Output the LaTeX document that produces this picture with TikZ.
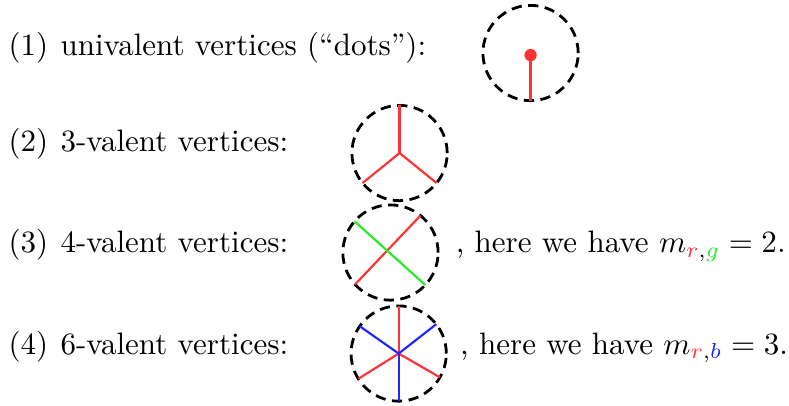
\documentclass[tikz,border=0pt]{standalone}
\usepackage{amsmath}
\usepackage{tikz}
\usepackage{xcolor}
\usetikzlibrary{calc}
\definecolor{vred}{RGB}{255,51,51}
\definecolor{vgreen}{RGB}{40,235,40}
\definecolor{vblue}{RGB}{30,40,255}

\begin{document}
\begin{tikzpicture}[scale=1.0,
    disk/.style={line width=0.9pt, dash pattern=on 3.3pt off 2.1pt},
    leg/.style={line width=0.7pt},
    lbl/.style={anchor=base west, inner sep=0pt}]
    \useasboundingbox (0,0) rectangle (8.945,-4.592);
    \def\rr{0.54}

    % Row labels
    \node [lbl] (n1) at (0.09,-0.624) {(1)};
    \node [lbl] (t1) at (0.68,-0.624) {univalent vertices (``dots''):};
    \node [lbl] (n2) at (0.09,-1.720) {(2)};
    \node [lbl] (t2) at (0.68,-1.720) {3-valent vertices:};
    \node [lbl] (n3) at (0.09,-2.865) {(3)};
    \node [lbl] (t3) at (0.68,-2.865) {4-valent vertices:};
    \node [lbl] (n4) at (0.09,-4.014) {(4)};
    \node [lbl] (t4) at (0.68,-4.014) {6-valent vertices:};

    % Dot
    \coordinate (c1) at (6.015,-0.601);
    \draw [disk] (c1) circle (\rr);
    \draw [leg, vred] (6.015,-0.625) -- (6.015,-0.601-\rr);
    \fill [vred] (6.015,-0.625) circle (0.07);

    % 3-valent
    \coordinate (c2) at (4.530,-1.735);
    \draw [disk] (c2) circle (\rr);
    \foreach \a in {90, 219, -39}
        \draw [leg, vred] (c2) -- ++(\a:\rr);

    % 4-valent
    \coordinate (c3) at (4.427,-2.863);
    \draw [disk] (c3) circle (\rr);
    \draw [leg, vred] ($(c3)+(222:\rr)$) -- ($(c3)+(51:\rr)$);
    \draw [leg, vgreen] ($(c3)+(139:\rr)$) -- ($(c3)+(-43:\rr)$);
    \node [lbl] (r3) at (5.16,-2.865)
        {, here we have $m_{\textcolor{vred}{r},\textcolor{vgreen}{g}} = 2$.};

    % 6-valent
    \coordinate (c4) at (4.520,-4.008);
    \draw [disk] (c4) circle (\rr);
    \foreach \a in {90, 212, -30}
        \draw [leg, vred] (c4) -- ++(\a:\rr);
    \foreach \a in {270, 145, 38}
        \draw [leg, vblue] (c4) -- ++(\a:\rr);
    \node [lbl] (r4) at (5.21,-4.014)
        {, here we have $m_{\textcolor{vred}{r},\textcolor{vblue}{b}} = 3$.};
\end{tikzpicture}
\end{document}
